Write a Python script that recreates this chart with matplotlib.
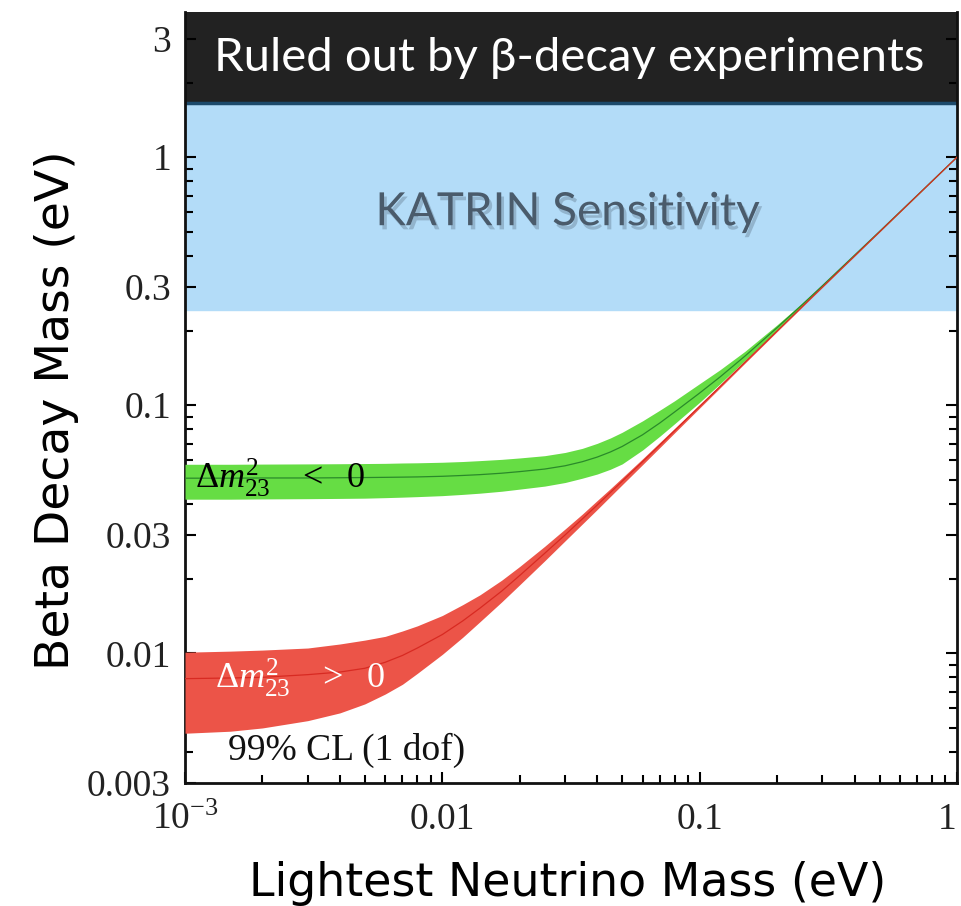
import matplotlib
matplotlib.use('Agg')
import matplotlib.pyplot as plt
import matplotlib.patheffects as pe
from matplotlib.ticker import FixedLocator, NullFormatter, LogLocator

plt.rcParams['mathtext.fontset'] = 'custom'
plt.rcParams['mathtext.rm'] = 'Liberation Serif'
plt.rcParams['mathtext.it'] = 'Liberation Serif:italic'

# lightest neutrino mass (eV)
m_light = [0.001, 0.0015, 0.002, 0.003, 0.004, 0.005, 0.006, 0.007, 0.008, 0.01,
           0.012, 0.014, 0.017, 0.02, 0.025, 0.03, 0.035, 0.04, 0.045, 0.05,
           0.06, 0.07, 0.08, 0.1, 0.12, 0.15, 0.2, 0.25, 0.3, 0.5, 0.7, 1.0]

# normal ordering (dm23 > 0), 99% CL band and central curve
normal_lo = [0.00476, 0.00485, 0.0050, 0.00535, 0.00575, 0.00625, 0.00685, 0.0075, 0.0083, 0.0099,
             0.0116, 0.0134, 0.0161, 0.0189, 0.0236, 0.0284, 0.0332, 0.0380, 0.0429, 0.0478,
             0.0576, 0.0675, 0.0775, 0.0975, 0.1175, 0.1478, 0.1982, 0.2485, 0.2988, 0.4992, 0.6995, 1.0]
normal_hi = [0.0101, 0.0102, 0.0103, 0.0105, 0.0109, 0.0113, 0.0117, 0.0123, 0.0129, 0.0142,
             0.0157, 0.0172, 0.0197, 0.0224, 0.0270, 0.0317, 0.0364, 0.0413, 0.0461, 0.0510,
             0.0608, 0.0708, 0.0807, 0.1006, 0.1204, 0.1504, 0.2003, 0.2502, 0.3002, 0.5001, 0.7, 1.0]
normal_mid = [0.0079, 0.00795, 0.0080, 0.0082, 0.0084, 0.0087, 0.0092, 0.0098, 0.0105, 0.0119,
              0.0135, 0.0152, 0.0178, 0.0206, 0.0253, 0.0300, 0.0348, 0.0396, 0.0445, 0.0494,
              0.0592, 0.0691, 0.0791, 0.0990, 0.1190, 0.1491, 0.1992, 0.2494, 0.2995, 0.4996, 0.6998, 1.0]

# inverted ordering (dm23 < 0)
inverted_lo = [0.0418, 0.0418, 0.0419, 0.0420, 0.0421, 0.0422, 0.0424, 0.0426, 0.0428, 0.0432,
               0.0437, 0.0442, 0.0450, 0.0459, 0.0472, 0.0488, 0.0508, 0.0528, 0.0552, 0.0580,
               0.0660, 0.0750, 0.0843, 0.1028, 0.1220, 0.1515, 0.2008, 0.2505, 0.3003, 0.5001, 0.7, 1.0]
inverted_hi = [0.0578, 0.0578, 0.0579, 0.0580, 0.0581, 0.0582, 0.0583, 0.0585, 0.0586, 0.0589,
               0.0593, 0.0598, 0.0605, 0.0613, 0.0626, 0.0645, 0.0670, 0.0702, 0.0738, 0.0778,
               0.0865, 0.0955, 0.1043, 0.1222, 0.1390, 0.1650, 0.2110, 0.2580, 0.3065, 0.5035, 0.7020, 1.0]
inverted_mid = [0.0508, 0.0508, 0.0509, 0.0509, 0.0510, 0.0511, 0.0512, 0.0513, 0.0514, 0.0517,
                0.0521, 0.0525, 0.0532, 0.0540, 0.0553, 0.0570, 0.0592, 0.0618, 0.0648, 0.0682,
                0.0760, 0.0848, 0.0940, 0.1120, 0.1300, 0.1578, 0.2055, 0.2540, 0.3033, 0.5018, 0.7010, 1.0]

ruled_out = 1.65      # beta-decay limit (eV)
katrin = 0.242        # KATRIN sensitivity (eV)
y_top = 3.85

y_ticks = [0.003, 0.01, 0.03, 0.1, 0.3, 1, 3]
y_ticklabels = ['0.003', '0.01', '0.03', '0.1', '0.3', '1', '3']
x_ticks = [0.001, 0.01, 0.1, 1]
x_ticklabels = ['10$^{-3}$', '0.01', '0.1', '1']

fig = plt.figure(figsize=(9.62, 9.06), dpi=100)
ax = fig.add_axes([0.1923, 0.1358, 0.8025, 0.851])

ax.set_xscale('log')
ax.set_yscale('log')
ax.set_xlim(0.001, 1)
ax.set_ylim(0.003, y_top)

# excluded / sensitivity regions
ax.axhspan(ruled_out, y_top, color='#222222', zorder=1)
ax.axhspan(katrin, ruled_out, color='#b3dcf8', zorder=1)
ax.axhline(ruled_out, color='#1d4a6b', lw=2.5, zorder=2)

ax.fill_between(m_light, inverted_lo, inverted_hi, color='#66dd44', lw=0, zorder=3)
ax.plot(m_light, inverted_mid, color='#2a8a2a', lw=0.9, zorder=4)
ax.fill_between(m_light, normal_lo, normal_hi, color='#ec5448', lw=0, zorder=5)
ax.plot(m_light, normal_mid, color='#d82a22', lw=0.9, zorder=6)

ax.text(0.031, (ruled_out * y_top) ** 0.5, 'Ruled out by β-decay experiments',
        color='white', fontsize=34, family='Lato', ha='center', va='center', zorder=7)
ax.text(0.0308, 0.60, 'KATRIN Sensitivity', color='#4a5b6b', fontsize=33, family='Lato',
        ha='center', va='center', zorder=7,
        path_effects=[pe.withSimplePatchShadow(offset=(2, -3), shadow_rgbFace='#30404f', alpha=0.25)])

ax.text(0.00109, 0.0508, r'$\Delta m^2_{23}$   $<$  0', color='black', fontsize=26,
        family='Liberation Serif', va='center', zorder=8)
ax.text(0.00131, 0.0080, r'$\Delta m^2_{23}$   $>$  0', color='white', fontsize=26,
        family='Liberation Serif', va='center', zorder=8)
ax.text(0.00147, 0.00405, '99% CL (1 dof)', color='#111111', fontsize=27,
        family='Liberation Serif', va='center', zorder=8)

ax.yaxis.set_major_locator(FixedLocator(y_ticks))
ax.set_yticklabels(y_ticklabels)
ax.yaxis.set_minor_locator(LogLocator(base=10, subs=range(2, 10)))
ax.yaxis.set_minor_formatter(NullFormatter())
ax.xaxis.set_major_locator(FixedLocator(x_ticks))
ax.set_xticklabels(x_ticklabels)
ax.xaxis.set_minor_locator(LogLocator(base=10, subs=range(2, 10)))
ax.xaxis.set_minor_formatter(NullFormatter())

for lab in ax.get_xticklabels() + ax.get_yticklabels():
    lab.set_family('Liberation Serif')
    lab.set_fontsize(27)
    lab.set_color('#222222')

# keep the last x label inside the figure edge
ax.get_xticklabels()[-1].set_horizontalalignment('right')

ax.tick_params(which='both', direction='in', right=True, top=False, width=1.5)
ax.tick_params(axis='y', which='major', pad=10)
ax.tick_params(axis='x', which='major', pad=14)
ax.tick_params(which='major', length=8)
ax.tick_params(which='minor', length=6)
for side in ['left', 'right', 'bottom']:
    ax.spines[side].set_linewidth(2)
    ax.spines[side].set_color('#111111')
ax.spines['top'].set_visible(False)

fig.text(0.59, 1 - 883 / 906, 'Lightest Neutrino Mass (eV)', family='DejaVu Sans',
         fontsize=33, ha='center', va='center')
fig.text(57 / 962, 1 - 410 / 906, 'Beta Decay Mass (eV)', family='DejaVu Sans',
         fontsize=34, ha='center', va='center', rotation=90)

fig.savefig('out.png', dpi=100)
